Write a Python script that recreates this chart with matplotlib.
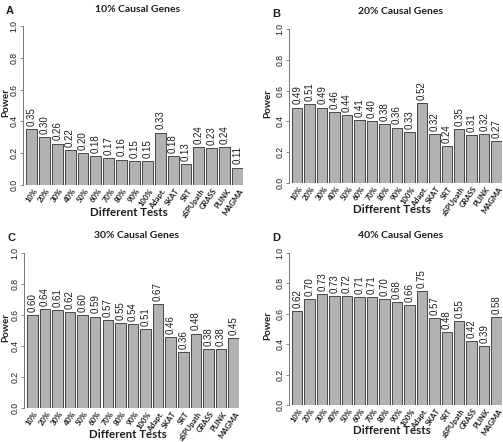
import numpy as np
import matplotlib
matplotlib.use('Agg')
from matplotlib import pyplot as plt

# tests on the x axis (same for every panel)
tests = ['10%', '20%', '30%', '40%', '50%', '60%', '70%', '80%', '90%', '100%',
         'Adapt.', 'SKAT', 'SRT', 'aSPUpath', 'GRASS', 'PLINK', 'MAGMA']

# power per test, one list per panel
power_10 = [0.35, 0.30, 0.26, 0.22, 0.20, 0.18, 0.17, 0.16, 0.15, 0.15,
            0.33, 0.18, 0.13, 0.24, 0.23, 0.24, 0.11]
power_20 = [0.49, 0.51, 0.49, 0.46, 0.44, 0.41, 0.40, 0.38, 0.36, 0.33,
            0.52, 0.32, 0.24, 0.35, 0.31, 0.32, 0.27]
power_30 = [0.60, 0.64, 0.63, 0.62, 0.60, 0.59, 0.57, 0.55, 0.54, 0.51,
            0.67, 0.46, 0.36, 0.48, 0.38, 0.38, 0.45]
power_40 = [0.62, 0.70, 0.73, 0.72, 0.72, 0.71, 0.71, 0.70, 0.68, 0.66,
            0.75, 0.57, 0.48, 0.55, 0.42, 0.39, 0.58]

# printed labels (as written in the figure)
labels_10 = ['0.35', '0.30', '0.26', '0.22', '0.20', '0.18', '0.17', '0.16', '0.15', '0.15',
             '0.33', '0.18', '0.13', '0.24', '0.23', '0.24', '0.11']
labels_20 = ['0.49', '0.51', '0.49', '0.46', '0.44', '0.41', '0.40', '0.38', '0.36', '0.33',
             '0.52', '0.32', '0.24', '0.35', '0.31', '0.32', '0.27']
labels_30 = ['0.60', '0.64', '0.61', '0.62', '0.60', '0.59', '0.57', '0.55', '0.54', '0.51',
             '0.67', '0.46', '0.36', '0.48', '0.38', '0.38', '0.45']
labels_40 = ['0.62', '0.70', '0.73', '0.73', '0.72', '0.71', '0.71', '0.70', '0.68', '0.66',
             '0.75', '0.57', '0.48', '0.55', '0.42', '0.39', '0.58']

titles = ['10% Causal Genes', '20% Causal Genes', '30% Causal Genes', '40% Causal Genes']
letters = ['A', 'B', 'C', 'D']

W, H = 503, 442
# panel boxes in pixels: spine x, right edge x, y of 1.0, y of 0.0
boxes = [(23, 243, 26, 185), (289, 502, 29, 183), (24, 239, 253, 408), (289, 502, 253, 405)]
power_x = [6, 268, 6, 268]  # pixel x of the "Power" label centre

fig = plt.figure(figsize=(W / 100, H / 100), dpi=100)

lab_font = ['Lato', 'DejaVu Sans']
num_font = ['Liberation Sans', 'DejaVu Sans']
bar_col = '#b2b2b2'
edge_col = '#474747'
txt_col = '#1e1e1e'

all_power = [power_10, power_20, power_30, power_40]
all_labels = [labels_10, labels_20, labels_30, labels_40]

x = np.arange(len(tests))
for k in range(4):
    x0, x1, ytop, ybot = boxes[k]
    ax = fig.add_axes([x0 / W, 1 - ybot / H, (x1 - x0) / W, (ybot - ytop) / H])
    ax.bar(x, all_power[k], width=0.84, color=bar_col, edgecolor=edge_col, linewidth=0.7)
    for i, v in enumerate(all_power[k]):
        ax.text(i, v + 0.02, all_labels[k][i], rotation=90, ha='center', va='bottom',
                fontsize=7, family=num_font, color=txt_col, clip_on=False)
    ax.set_xlim(-0.66, 16.43)
    ax.set_ylim(0, 1)
    for s in ['top', 'right', 'bottom']:
        ax.spines[s].set_visible(False)
    ax.spines['left'].set_color('#777777')
    ax.spines['left'].set_linewidth(0.7)
    ax.set_yticks([0, 0.2, 0.4, 0.6, 0.8, 1.0])
    ax.set_yticklabels(['0.0', '0.2', '0.4', '0.6', '0.8', '1.0'], rotation=90, va='center',
                       fontsize=6.2, family=num_font, color=txt_col)
    ax.tick_params(axis='y', length=2, width=0.6, color='#777777', pad=1)
    ax.set_xticks([])
    for i, t in enumerate(tests):
        ax.text(i + 0.1, -0.015, t, rotation=55, ha='right', va='top', rotation_mode='anchor',
                fontsize=5.5, family=lab_font, fontweight='bold', color=txt_col)
    ax.text(7.6, -0.17, 'Different Tests', ha='center', va='center', fontsize=8.3,
            family=lab_font, fontweight='bold', color=txt_col)
    fig.text(power_x[k] / W, 1 - ((ytop + ybot) / 2 - 3) / H, 'Power', rotation=90, ha='center',
             va='center', fontsize=7.2, family=lab_font, fontweight='bold', color=txt_col)
    fig.text((x0 + x1) / 2 / W + 0.01, 1 - (ytop - 17) / H, titles[k], ha='center', va='center',
             fontsize=7.5, family=lab_font, fontweight='bold', color=txt_col)
    fig.text((x0 - 17) / W, 1 - (ytop - 15) / H, letters[k], ha='left', va='center',
             fontsize=8, family=num_font, fontweight='bold', color=txt_col)

fig.savefig('out.png', dpi=100)
